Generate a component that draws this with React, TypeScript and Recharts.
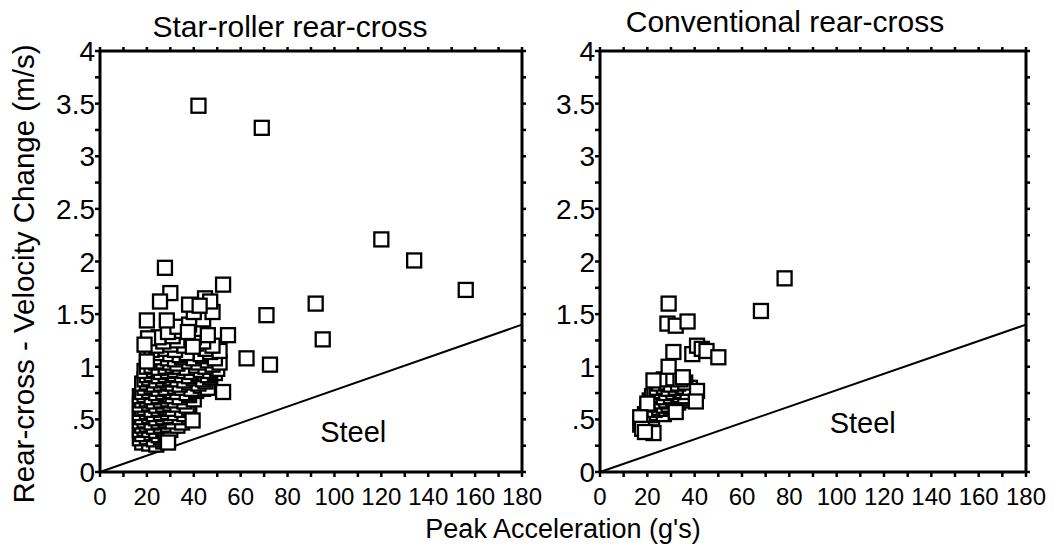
import React from 'react';
import { ScatterChart, Scatter, XAxis, YAxis, ReferenceLine, ReferenceDot } from 'recharts';

// ---- data ----
const panelTitles = ['Star-roller rear-cross', 'Conventional rear-cross'];
const xAxisTitle = "Peak Acceleration (g's)";
const yAxisTitle = 'Rear-cross -  Velocity Change (m/s)';
const steelText = 'Steel';

const xTicks = [0, 10, 20, 30, 40, 50, 60, 70, 80, 90, 100, 110, 120, 130, 140, 150, 160, 170, 180];
const yTicks = [0, 0.25, 0.5, 0.75, 1, 1.25, 1.5, 1.75, 2, 2.25, 2.5, 2.75, 3, 3.25, 3.5, 3.75, 4];

// steel reference line end point (x = 180)
const steelLine = [
  { x: 0, y: 0 },
  { x: 180, y: 1.4 },
];
const steelLabelStar = { x: 108, y: 0.38 };
const steelLabelConv = { x: 111, y: 0.47 };

// Star-roller: dense cluster (drawn first)
const starCluster: [number, number][] = [
  [18, 0.28], [21, 0.27], [24, 0.26], [27, 0.29],
  [17, 0.32], [20, 0.33], [23, 0.31], [26, 0.33], [29, 0.3],
  [18, 0.36], [22, 0.37], [25, 0.35], [28, 0.37],
  [17, 0.4], [19, 0.41], [21, 0.4], [24, 0.39], [27, 0.41], [30, 0.4],
  [18, 0.44], [20, 0.45], [23, 0.43], [26, 0.44], [29, 0.45], [33, 0.44],
  [17, 0.48], [19, 0.49], [22, 0.47], [25, 0.48], [28, 0.49], [31, 0.48], [35, 0.47],
  [18, 0.52], [21, 0.53], [24, 0.51], [27, 0.52], [30, 0.53], [34, 0.52], [38, 0.53],
  [17, 0.56], [20, 0.57], [23, 0.55], [26, 0.56], [29, 0.57], [32, 0.56], [36, 0.55],
  [18, 0.6], [19, 0.61], [22, 0.59], [25, 0.6], [28, 0.61], [31, 0.6], [35, 0.59], [38, 0.61],
  [17, 0.64], [21, 0.65], [24, 0.63], [27, 0.64], [30, 0.65], [33, 0.64], [37, 0.63],
  [18, 0.68], [20, 0.69], [23, 0.67], [26, 0.68], [29, 0.69], [32, 0.68], [36, 0.67], [40, 0.69],
  [17, 0.72], [19, 0.73], [22, 0.71], [25, 0.72], [28, 0.73], [31, 0.72], [34, 0.71], [38, 0.73],
  [18, 0.76], [21, 0.77], [24, 0.75], [27, 0.76], [30, 0.77], [33, 0.76], [37, 0.75], [41, 0.77], [44, 0.79],
  [19, 0.8], [22, 0.81], [25, 0.79], [28, 0.8], [32, 0.81], [35, 0.8], [39, 0.79], [43, 0.82], [46, 0.8],
  [18, 0.84], [20, 0.85], [23, 0.83], [26, 0.84], [29, 0.85], [31, 0.84], [34, 0.83], [38, 0.85], [42, 0.84], [45, 0.86],
  [19, 0.88], [21, 0.89], [24, 0.87], [27, 0.88], [30, 0.89], [33, 0.88], [36, 0.87], [40, 0.89], [44, 0.88], [47, 0.9],
  [20, 0.92], [22, 0.93], [25, 0.91], [28, 0.92], [31, 0.93], [35, 0.92], [38, 0.91], [42, 0.93], [46, 0.92], [49, 0.94],
  [19, 0.96], [23, 0.97], [26, 0.95], [29, 0.96], [32, 0.97], [36, 0.96], [39, 0.95], [43, 0.97], [47, 0.96], [50, 0.98],
  [20, 1.0], [22, 1.01], [25, 0.99], [28, 1.0], [31, 1.01], [34, 1.0], [37, 0.99], [41, 1.01], [45, 1.0], [48, 1.02],
  [24, 1.04], [27, 1.05], [30, 1.04], [33, 1.03], [38, 1.05], [42, 1.04], [46, 1.06], [51, 1.04],
  [21, 1.08], [25, 1.09], [29, 1.08], [32, 1.07], [35, 1.09], [40, 1.08], [44, 1.1], [49, 1.08],
  [20, 1.12], [26, 1.13], [30, 1.12], [34, 1.11], [37, 1.13], [43, 1.12], [47, 1.14],
  [22, 1.16], [28, 1.17], [32, 1.16], [45, 1.17], [51, 1.15],
  [24, 1.2], [30, 1.21], [36, 1.2], [41, 1.22], [48, 1.2],
  [27, 1.24], [33, 1.25], [44, 1.24],
  [25, 1.28], [31, 1.29], [40, 1.28],
  [29, 1.33], [35, 1.34], [42, 1.36],
  [33, 1.38], [38, 1.4], [44, 1.45], [48, 1.52], [40, 1.52],
];

// Star-roller: individually visible squares (drawn on top)
const starPoints: [number, number][] = [
  [42, 3.48], [69, 3.27], [120, 2.21], [134, 2.01], [156, 1.73],
  [92, 1.6], [95, 1.26], [71, 1.49], [72.5, 1.02], [62.5, 1.08],
  [52.5, 1.78], [27.7, 1.94], [30, 1.7], [25.6, 1.62], [20, 1.44],
  [28.5, 1.44], [38, 1.59], [44.8, 1.65], [47, 1.62], [42.5, 1.58],
  [52.5, 0.76], [54.6, 1.3], [46, 1.3], [20.5, 1.27], [19, 1.21],
  [20, 1.05], [39.5, 0.49], [37.5, 1.33], [39.6, 1.19], [29, 0.28],
];

// Conventional: dense cluster (drawn first)
const convCluster: [number, number][] = [
  [17, 0.45], [19, 0.44], [21, 0.46],
  [18, 0.5], [20, 0.49], [22, 0.51],
  [19, 0.55], [21, 0.54], [24, 0.56], [27, 0.55],
  [20, 0.6], [23, 0.59], [25, 0.61], [28, 0.6], [30, 0.62],
  [22, 0.64], [24, 0.65], [27, 0.63], [29, 0.64], [33, 0.66],
  [21, 0.68], [23, 0.69], [26, 0.67], [28, 0.68], [31, 0.69], [35, 0.68], [38, 0.7],
  [22, 0.72], [25, 0.73], [27, 0.71], [30, 0.72], [33, 0.73], [36, 0.72],
  [23, 0.76], [26, 0.77], [28, 0.75], [31, 0.76], [34, 0.77], [37, 0.76],
  [24, 0.8], [27, 0.81], [29, 0.79], [32, 0.8], [35, 0.81], [38, 0.8],
  [25, 0.84], [28, 0.85], [30, 0.83], [33, 0.84], [36, 0.85],
  [27, 0.88], [31, 0.89], [34, 0.88],
];

// Conventional: individually visible squares (drawn on top)
const convPoints: [number, number][] = [
  [78, 1.84], [68, 1.53], [29, 1.6], [28.5, 1.41], [32, 1.39],
  [37, 1.43], [31, 1.14], [39, 1.12], [41, 1.2], [43, 1.17],
  [45, 1.15], [50, 1.09], [29, 1.0], [22.6, 0.87], [35, 0.9],
  [41, 0.77], [40.5, 0.67], [32, 0.57], [20, 0.65], [17, 0.52],
  [17.8, 0.41], [22.6, 0.37], [19, 0.38],
];

// ---- helpers ----
const toRows = (pts: [number, number][]) => pts.map(([x, y]) => ({ x, y }));

const FONT = '"Liberation Sans", Arial, Helvetica, sans-serif';

const xTickFmt = (v: number) => (Math.abs(v % 20) < 1e-6 ? String(v) : '');
const yTickFmt = (v: number) => {
  if (Math.abs(v * 2 - Math.round(v * 2)) > 1e-6) return '';
  if (v === 0) return '0';
  if (v === 0.5) return '.5';
  return String(v);
};

const Square = (props: any) => {
  const { cx, cy } = props;
  if (cx == null || cy == null) return null;
  return (
    <rect x={cx - 7} y={cy - 7} width={14} height={14} fill="#fff" stroke="#000" strokeWidth={2.3} />
  );
};

const PLOT_TOP = 51;
const PLOT_BOTTOM = 472;
const H = 551;
const BOTTOM_AXIS_H = 40;
const TOP_AXIS_H = 10;
const LEFT_AXIS_W = 40;
const RIGHT_AXIS_W = 10;
const TICK = 5;

// tick renderers: draw the tick mark and (optionally) its label
const bottomTick = (props: any) => {
  const { x, payload } = props;
  const label = xTickFmt(payload.value);
  return (
    <g>
      <line x1={x} x2={x} y1={PLOT_BOTTOM} y2={PLOT_BOTTOM + TICK} stroke="#000" strokeWidth={2.5} />
      {label !== '' && (
        <text
          x={x}
          y={PLOT_BOTTOM + 16}
          dy="0.71em"
          textAnchor="middle"
          fontSize={24}
          fontFamily={FONT}
          fill="#000"
        >
          {label}
        </text>
      )}
    </g>
  );
};
const topTick = (props: any) => {
  const { x } = props;
  return <line x1={x} x2={x} y1={PLOT_TOP - 4} y2={PLOT_TOP} stroke="#000" strokeWidth={2.5} />;
};
const makeLeftTick = (plotLeft: number) => (props: any) => {
  const { y, payload } = props;
  const label = yTickFmt(payload.value);
  return (
    <g>
      <line x1={plotLeft - TICK} x2={plotLeft} y1={y} y2={y} stroke="#000" strokeWidth={2.5} />
      {label !== '' && (
        <text
          x={plotLeft - 5}
          y={y}
          dy="0.36em"
          textAnchor="end"
          fontSize={28}
          fontFamily={FONT}
          fill="#000"
        >
          {label}
        </text>
      )}
    </g>
  );
};
const makeRightTick = (plotRight: number) => (props: any) => {
  const { y } = props;
  return <line x1={plotRight} x2={plotRight + 4} y1={y} y2={y} stroke="#000" strokeWidth={2.5} />;
};

type PanelProps = {
  left: number;
  width: number;
  plotLeft: number;
  plotRight: number;
  cluster: [number, number][];
  points: [number, number][];
  steel: { x: number; y: number };
};

const frame = { stroke: '#000', strokeWidth: 3, ifOverflow: 'visible' as const };

const Panel = ({ left, width, plotLeft, plotRight, cluster, points, steel }: PanelProps) => (
  <div style={{ position: 'absolute', left, top: 0 }}>
    <ScatterChart
      width={width}
      height={H}
      margin={{
        top: PLOT_TOP - TOP_AXIS_H,
        bottom: H - PLOT_BOTTOM - BOTTOM_AXIS_H,
        left: plotLeft - LEFT_AXIS_W,
        right: width - plotRight - RIGHT_AXIS_W,
      }}
    >
      <XAxis
        type="number"
        dataKey="x"
        domain={[0, 180]}
        ticks={xTicks}
        interval={0}
        height={BOTTOM_AXIS_H}
        axisLine={false}
        tickLine={false}
        tick={bottomTick}
        allowDataOverflow
      />
      <XAxis
        xAxisId="top"
        orientation="top"
        type="number"
        dataKey="x"
        domain={[0, 180]}
        ticks={xTicks}
        interval={0}
        height={TOP_AXIS_H}
        axisLine={false}
        tickLine={false}
        tick={topTick}
        allowDataOverflow
      />
      <YAxis
        type="number"
        dataKey="y"
        domain={[0, 4]}
        ticks={yTicks}
        interval={0}
        width={LEFT_AXIS_W}
        axisLine={false}
        tickLine={false}
        tick={makeLeftTick(plotLeft)}
        allowDataOverflow
      />
      <YAxis
        yAxisId="right"
        orientation="right"
        type="number"
        dataKey="y"
        domain={[0, 4]}
        ticks={yTicks}
        interval={0}
        width={RIGHT_AXIS_W}
        axisLine={false}
        tickLine={false}
        tick={makeRightTick(plotRight)}
        allowDataOverflow
      />
      <ReferenceLine x={0} {...frame} />
      <ReferenceLine x={180} {...frame} />
      <ReferenceLine y={0} {...frame} />
      <ReferenceLine y={4} {...frame} />
      <ReferenceLine segment={steelLine} stroke="#000" strokeWidth={2} ifOverflow="visible" />
      <ReferenceDot
        x={steel.x}
        y={steel.y}
        r={0}
        fill="none"
        stroke="none"
        label={{ value: steelText, position: 'center', fontSize: 29, fill: '#000', fontFamily: FONT }}
      />
      <Scatter data={toRows(cluster)} shape={Square} isAnimationActive={false} />
      <Scatter data={toRows(points)} shape={Square} isAnimationActive={false} />
    </ScatterChart>
  </div>
);

export default function App() {
  return (
    <div
      style={{
        position: 'absolute',
        left: 0,
        top: 0,
        width: 1063,
        height: 551,
        background: '#fff',
        fontFamily: FONT,
      }}
    >
      <Panel
        left={0}
        width={545}
        plotLeft={100}
        plotRight={522}
        cluster={starCluster}
        points={starPoints}
        steel={steelLabelStar}
      />
      <Panel
        left={545}
        width={518}
        plotLeft={55}
        plotRight={481}
        cluster={convCluster}
        points={convPoints}
        steel={steelLabelConv}
      />
      <svg
        width={1063}
        height={551}
        style={{ position: 'absolute', left: 0, top: 0, pointerEvents: 'none' }}
      >
        <text x={290} y={37} textAnchor="middle" fontSize={30} fontFamily={FONT} fill="#000">
          {panelTitles[0]}
        </text>
        <text x={785} y={32} textAnchor="middle" fontSize={30} fontFamily={FONT} fill="#000">
          {panelTitles[1]}
        </text>
        <text x={563} y={538} textAnchor="middle" fontSize={27} fontFamily={FONT} fill="#000">
          {xAxisTitle}
        </text>
        <text
          x={0}
          y={0}
          transform="translate(34 274) rotate(-90)"
          textAnchor="middle"
          fontSize={29.5}
          fontFamily={FONT}
          fill="#000"
        >
          {yAxisTitle}
        </text>
      </svg>
    </div>
  );
}
